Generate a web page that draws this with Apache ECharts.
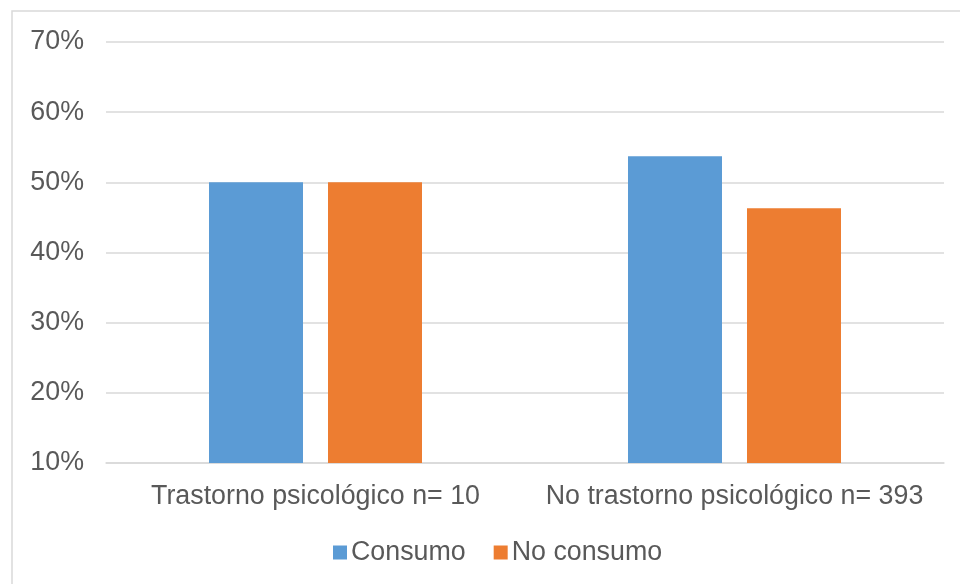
<!DOCTYPE html>
<html>
<head>
<meta charset="utf-8">
<script src="https://cdn.jsdelivr.net/npm/echarts@6/dist/echarts.min.js"></script>
<style>
  html, body { margin: 0; padding: 0; background: #fff; }
  #chart { width: 960px; height: 584px; }
</style>
</head>
<body>
<div id="chart"></div>
<script>
// Categories and percentage values per group
const categories = ['Trastorno psicológico n= 10', 'No trastorno psicológico n= 393'];
const consumo = [50.0, 53.7];
const noConsumo = [50.0, 46.3];
const seriesNames = ['Consumo', 'No consumo'];

const textColor = '#595959';
const font = 'Arial, "Liberation Sans", sans-serif';
const fontSize = 26.8;

const chart = echarts.init(document.getElementById('chart'), null, { renderer: 'canvas' });

chart.setOption({
  animation: false,
  backgroundColor: '#ffffff',
  graphic: [{
    type: 'rect',
    shape: { x: 12, y: 11, width: 1000, height: 1000 },
    style: { fill: 'none', stroke: '#d9d9d9', lineWidth: 1.5 },
    silent: true
  }],
  grid: { left: 106, right: 16, top: 42, bottom: 121, containLabel: false },
  legend: {
    data: seriesNames,
    left: 328,
    top: 534,
    itemWidth: 14,
    itemHeight: 14,
    itemGap: 28,
    icon: 'rect',
    textStyle: { color: textColor, fontSize: fontSize, fontFamily: font, padding: [0, 0, 0, -1] }
  },
  xAxis: {
    type: 'category',
    data: categories,
    axisLine: { show: true, lineStyle: { color: '#d9d9d9', width: 1.5 } },
    axisTick: { show: false },
    axisLabel: { color: textColor, fontSize: fontSize, fontFamily: font, margin: 20, interval: 0 }
  },
  yAxis: {
    type: 'value',
    min: 10,
    max: 70,
    interval: 10,
    axisLine: { show: false },
    axisTick: { show: false },
    splitLine: { lineStyle: { color: '#d9d9d9', width: 1.5 } },
    axisLabel: { color: textColor, fontSize: fontSize, fontFamily: font, margin: 22, formatter: '{value}%' }
  },
  series: [
    {
      name: seriesNames[0],
      type: 'bar',
      data: consumo,
      barWidth: 94,
      barGap: '26.6%',
      itemStyle: { color: '#5b9bd5' }
    },
    {
      name: seriesNames[1],
      type: 'bar',
      data: noConsumo,
      barWidth: 94,
      itemStyle: { color: '#ed7d31' }
    }
  ]
});
</script>
</body>
</html>
